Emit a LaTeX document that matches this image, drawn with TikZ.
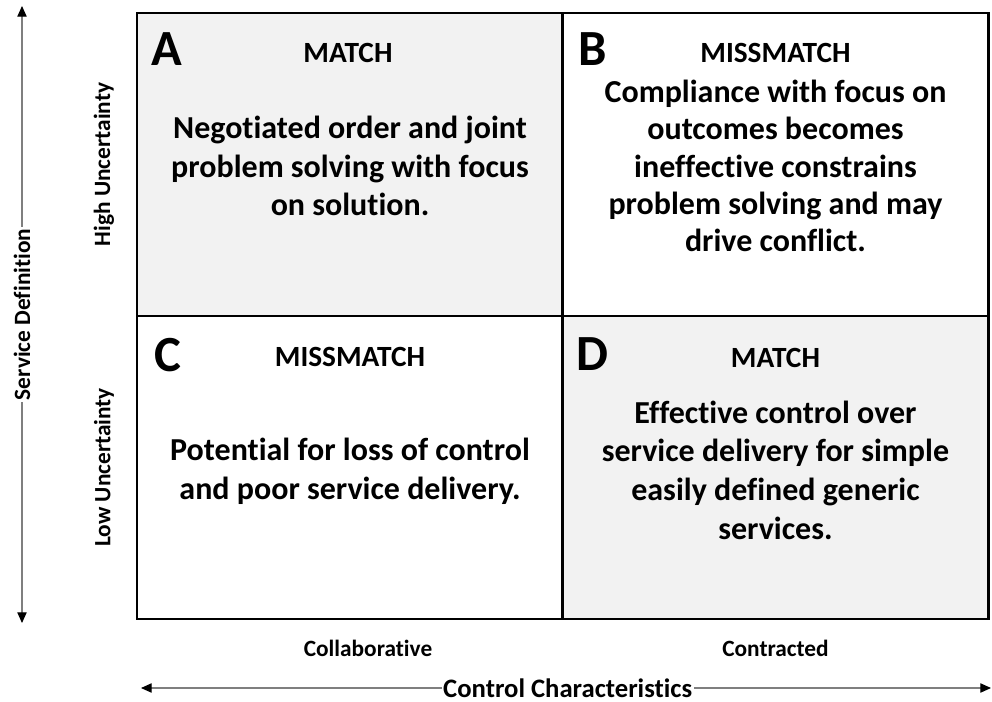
\documentclass[tikz,border=0pt]{standalone}
\usepackage{fontspec}
\setmainfont{Carlito}[Ligatures=NoCommon]
\usetikzlibrary{arrows.meta, positioning, calc}
\definecolor{cellgray}{HTML}{F2F2F2}
\definecolor{axisgray}{HTML}{7F7F7F}

\begin{document}
\begin{tikzpicture}[x=0.75pt, y=-0.75pt,
    cell/.style={draw, line width=2.2pt, inner sep=0pt, outer sep=0pt,
        minimum width=319.5pt, minimum height=227.25pt},
    letter/.style={font=\fontsize{38}{40}\selectfont\bfseries, inner sep=0pt},
    title/.style={font=\fontsize{22}{26}\selectfont\bfseries},
    body/.style={font=\fontsize{24}{29}\selectfont\bfseries, align=center},
    axislabel/.style={font=\fontsize{17.5}{20}\selectfont\bfseries},
    axis/.style={draw=axisgray, line width=0.8pt,
        {Triangle[black, length=8pt, width=7pt]}-{Triangle[black, length=8pt, width=7pt]}}]
    \useasboundingbox (0,0) rectangle (992,702);
    % quadrants
    \node[cell, fill=cellgray] at (350,164.5) (A) {};
    \node[cell] at (775.5,164.5) (B) {};
    \node[cell] at (350,467.5) (C) {};
    \node[cell, fill=cellgray] at (775.5,467.5) (D) {};
	\node[letter] at ($(A.north west) + (30,36)$) (lA) {A};
	\node[letter] at ($(B.north west) + (30,36)$) (lB) {B};
	\node[letter] at ($(C.north west) + (31,39)$) (lC) {C};
	\node[letter] at ($(D.north west) + (30,38)$) (lD) {D};
    \node[title] at ($(A.north) + (-2,40)$) (tA) {MATCH};
    \node[title] at ($(B.north) + (0,40)$) (tB) {MISSMATCH};
    \node[title] at ($(C.north) + (0,41)$) (tC) {MISSMATCH};
    \node[title] at ($(D.north) + (0,42)$) (tD) {MATCH};
    \node[body] at ($(A.north) + (0,153)$) (bA) {Negotiated order and joint\\problem solving with focus\\on solution.};
    \node[body, font=\fontsize{24}{28}\selectfont\bfseries] at ($(B.north) + (0,153)$) (bB) {Compliance with focus on\\outcomes becomes\\ineffective constrains\\problem solving and may\\drive conflict.};
    \node[body] at ($(C.north) + (0,155)$) (bC) {Potential for loss of control\\and poor service delivery.};
    \node[body] at ($(D.north) + (0,154)$) (bD) {Effective control over\\service delivery for simple\\easily defined generic\\services.};
    % axes
    \node[axislabel, rotate=90] at ($(A.west) + (-33,0)$) (high) {High Uncertainty};
    \node[axislabel, rotate=90] at ($(C.west) + (-33,0)$) (low) {Low Uncertainty};
    \node[axislabel] at ($(C.south) + (18,29)$) (collab) {Collaborative};
    \node[axislabel] at ($(D.south) + (0,29)$) (contr) {Contracted};
    \coordinate (vtop) at (22,6);
    \coordinate (vbot) at (22,623);
    \coordinate (hleft) at (141,688);
    \coordinate (hright) at (991,688);
    \draw[axis] (vtop) -- node[axislabel, fill=white, inner sep=1pt, rotate=90] (sd) {Service Definition} (vbot);
    \draw[axis] (hleft) -- node[font=\fontsize{20}{22}\selectfont\bfseries, fill=white, inner sep=1pt, pos=0.502] (cc) {Control Characteristics} (hright);
\end{tikzpicture}
\end{document}
